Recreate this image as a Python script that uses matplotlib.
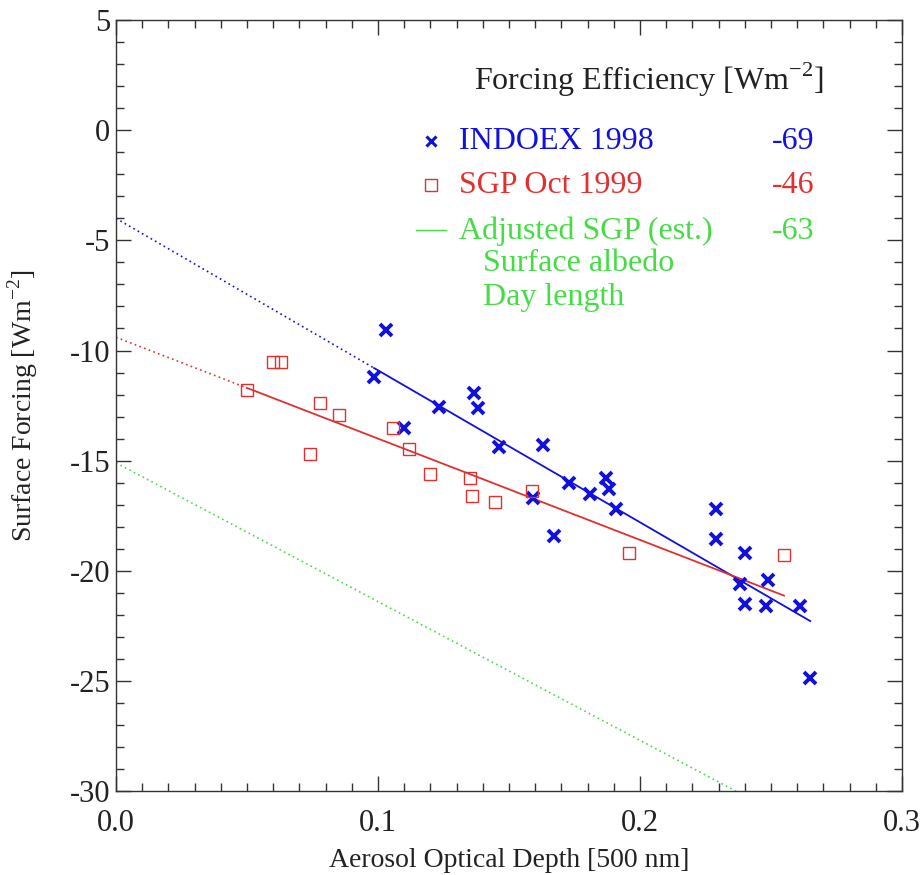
import matplotlib
matplotlib.use("Agg")
import matplotlib.pyplot as plt
from matplotlib.ticker import MultipleLocator, FormatStrFormatter
import numpy as np

plt.rcParams['font.family'] = ['Liberation Serif', 'DejaVu Serif']
plt.rcParams['mathtext.fontset'] = 'custom'
plt.rcParams['mathtext.rm'] = 'Liberation Serif'
plt.rcParams['axes.unicode_minus'] = False

#--- INDOEX 1998 points (AOD, surface forcing)
indoex_aod = [0.0985, 0.103, 0.110, 0.1234, 0.1368, 0.1383, 0.146, 0.159, 0.163, 0.167,
              0.173, 0.181, 0.187, 0.188, 0.191, 0.229, 0.229, 0.238, 0.240, 0.240,
              0.248, 0.249, 0.261, 0.265]
indoex_forcing = [-11.2, -9.05, -13.5, -12.55, -11.95, -12.6, -14.4, -16.7, -14.3, -18.4,
                  -16.0, -16.5, -15.8, -16.3, -17.2, -17.2, -18.55, -20.6, -19.2, -21.5,
                  -21.6, -20.4, -21.6, -24.85]

#--- SGP Oct 1999 points
sgp_aod = [0.050, 0.060, 0.063, 0.074, 0.078, 0.085, 0.1057, 0.112, 0.120, 0.135,
           0.136, 0.1445, 0.1586, 0.1958, 0.255]
sgp_forcing = [-11.8, -10.5, -10.5, -14.7, -12.4, -12.95, -13.5, -14.45, -15.6, -15.8,
               -16.6, -16.9, -16.4, -19.2, -19.3]

#--- Fit lines: intercept and forcing efficiency (slope)
indoex_fit = (-4.0, -69)
sgp_fit = (-9.4, -46)
adj_fit = (-15.1, -63)

blue = "#1010e0"
red = "#e03030"
green = "#44dd44"

fig = plt.figure(figsize=(9.23, 8.75), dpi=100)
ax = fig.add_axes([0.1257, 0.096, 0.8515, 0.881])

def fit_line(fit, x):
    return fit[0] + fit[1] * np.asarray(x)

#--- INDOEX: dotted extension to zero, solid over data range
x0 = [0, min(indoex_aod)]
x1 = [min(indoex_aod), max(indoex_aod)]
ax.plot(x0, fit_line(indoex_fit, x0), color=blue, lw=1.2, ls=(0, (1, 2)))
ax.plot(x1, fit_line(indoex_fit, x1), color=blue, lw=1.3)

x0 = [0, min(sgp_aod)]
x1 = [min(sgp_aod), max(sgp_aod)]
ax.plot(x0, fit_line(sgp_fit, x0), color=red, lw=1.2, ls=(0, (1, 2)))
ax.plot(x1, fit_line(sgp_fit, x1), color=red, lw=1.3)

xg = [0, 0.3]
ax.plot(xg, fit_line(adj_fit, xg), color=green, lw=1.2, ls=(0, (1, 2)))

ax.plot(indoex_aod, indoex_forcing, ls="none", marker="x", ms=9, mew=2.8, color=blue)
ax.plot(sgp_aod, sgp_forcing, ls="none", marker="s", ms=9, mew=1.0, mfc="none", mec=red)

#--- Legend drawn by hand
fs = 23
ax.text(0.1368, 2.27, "Forcing Efficiency [Wm$^{-2}$]", fontsize=fs, va="center", ha="left", color="#222222")
ax.plot([0.1203], [-0.5], ls="none", marker="x", ms=7, mew=2.2, color=blue)
ax.text(0.131, -0.5, "INDOEX 1998", fontsize=fs, va="center", color=blue)
ax.text(0.2667, -0.5, "-69", fontsize=fs, va="center", ha="right", color=blue)
ax.plot([0.1203], [-2.5], ls="none", marker="s", ms=9, mew=1.0, mfc="none", mec=red)
ax.text(0.131, -2.5, "SGP Oct 1999", fontsize=fs, va="center", color=red)
ax.text(0.2667, -2.5, "-46", fontsize=fs, va="center", ha="right", color=red)
ax.plot([0.1146, 0.126], [-4.55, -4.55], color=green, lw=1.0)
ax.text(0.131, -4.6, "Adjusted SGP (est.)", fontsize=fs, va="center", color=green)
ax.text(0.2667, -4.6, "-63", fontsize=fs, va="center", ha="right", color=green)
ax.text(0.1402, -6.05, "Surface albedo", fontsize=fs, va="center", color=green)
ax.text(0.1402, -7.6, "Day length", fontsize=fs, va="center", color=green)

ax.set_xlim(0, 0.3)
ax.set_ylim(-30, 5)
ax.xaxis.set_major_locator(MultipleLocator(0.1))
ax.xaxis.set_minor_locator(MultipleLocator(0.01))
ax.yaxis.set_major_locator(MultipleLocator(5))
ax.yaxis.set_minor_locator(MultipleLocator(1))
ax.xaxis.set_major_formatter(FormatStrFormatter("%.1f"))
ax.yaxis.set_major_formatter(FormatStrFormatter("%d"))
ax.tick_params(which="both", direction="in", top=True, right=True, colors="#333333", labelcolor="#222222")
ax.tick_params(which="major", length=11, width=1.0, labelsize=22)
ax.tick_params(which="minor", length=6, width=1.0)
ax.tick_params(axis="x", which="major", pad=13)
ax.tick_params(axis="y", which="major", pad=4)
for s in ax.spines.values():
    s.set_color("#333333")
    s.set_linewidth(1.0)

ax.set_xlabel("Aerosol Optical Depth [500 nm]", fontsize=20, color="#222222")
ax.set_ylabel("Surface Forcing [Wm$^{-2}$]", fontsize=20, color="#222222")
ax.xaxis.set_label_coords(0.5, -0.074)
ax.yaxis.set_label_coords(-0.097, 0.5)

fig.savefig("out.png", dpi=100)
plt.close()
